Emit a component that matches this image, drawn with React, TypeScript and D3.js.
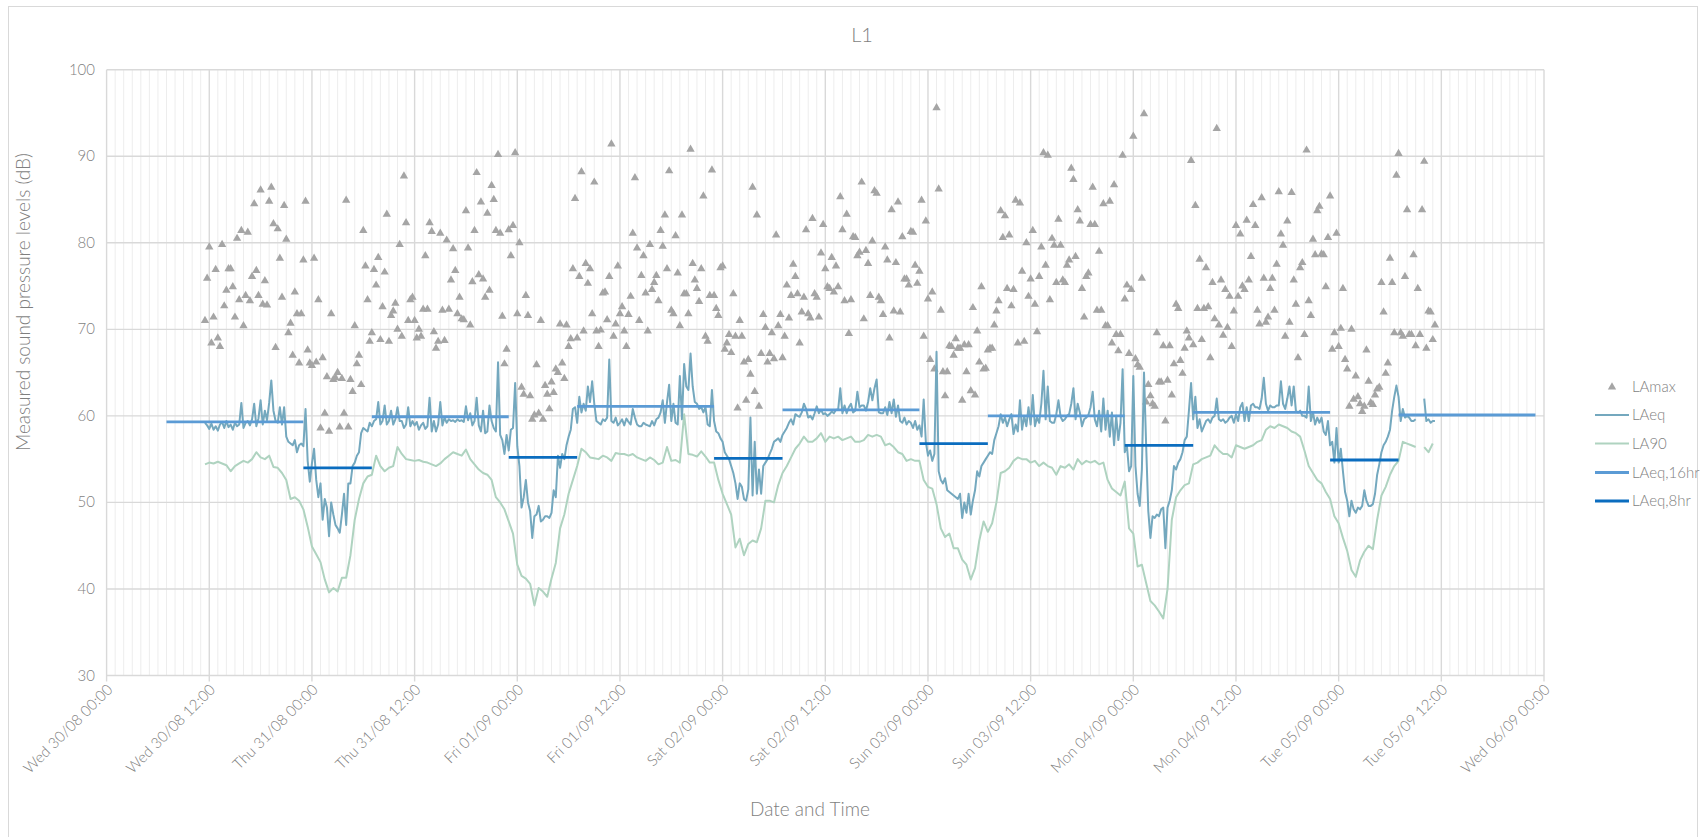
import React from "react";
import * as d3 from "d3";

const W = 1704;
const H = 837;
const plot = { left: 106.6, right: 1544, top: 69.7, bottom: 675.5 };

const chartTitle = "L1";
const yTitle = "Measured sound pressure levels (dB)";
const xTitle = "Date and Time";
const yTicks = [30, 40, 50, 60, 70, 80, 90, 100];
const xDomain = [new Date(2023, 7, 30, 0, 0), new Date(2023, 8, 6, 0, 0)];
const xTickFormat = "%a %d/%m %H:%M";

// first measurement: Wed 30/08 11:30
const seriesStart = new Date(2023, 7, 30, 11, 30);

// LAmax, 15 minute values
const laMax = [
  71.0, 75.9, 79.5, 68.4, 71.4, 76.9, 69.0, 68.0,
  79.8, 72.7, 74.5, 77.0, 77.0, 74.9, 71.4, 80.5,
  73.4, 81.4, 70.4, 73.9, 81.2, 73.3, 76.1, 84.5,
  76.8, 73.9, 86.1, 72.9, 75.6, 72.8, 84.8, 86.4,
  82.2, 67.9, 81.6, 78.2, 73.7, 84.3, 80.4, 69.6,
  70.7, 67.0, 74.3, 71.8, 66.1, 71.8, 78.0, 84.8,
  67.6, 66.1, 65.8, 78.2, 66.2, 73.4, 58.6, 66.7,
  60.3, 64.5, 58.2, 71.8, 64.2, 64.4, 65.0, 58.7,
  64.3, 60.3, 84.9, 58.7, 64.2, 62.8, 70.4, 66.0,
  67.0, 63.6, 81.4, 77.3, 73.4, 68.6, 69.6, 76.9,
  75.1, 78.3, 68.8, 72.6, 76.6, 83.3, 68.6, 71.6,
  72.1, 73.0, 70.0, 79.8, 69.2, 87.7, 82.3, 71.0,
  // Thu 31/08 11:30
  73.4, 73.7, 71.0, 69.0, 70.0, 69.2, 72.3, 78.5,
  72.3, 82.3, 81.3, 69.7, 67.8, 68.6, 81.1, 72.2,
  68.7, 80.3, 72.3, 75.7, 79.3, 76.8, 71.8, 73.7,
  71.2, 71.1, 83.7, 79.4, 70.5, 75.5, 81.4, 88.1,
  76.3, 84.7, 75.8, 73.7, 83.4, 74.5, 86.6, 85.0,
  81.4, 90.2, 81.1, 71.5, 66.0, 67.7, 81.5, 78.5,
  82.0, 90.4, 71.8, 80.0, 63.3, 62.5, 73.9, 71.6,
  62.3, 59.6, 60.1, 65.9, 60.3, 71.0, 59.6, 63.5,
  62.5, 60.8, 63.9, 62.7, 65.4, 65.0, 70.6, 66.1,
  64.3, 70.5, 68.0, 68.9, 77.0, 85.1, 69.0, 76.1,
  88.2, 69.8, 77.6, 75.3, 77.0, 71.8, 87.0, 69.8,
  68.0, 69.9, 74.2, 74.3, 71.1, 76.1, 91.4, 69.2,
  // Fri 01/09 11:30
  70.6, 77.3, 71.8, 72.6, 69.8, 68.0, 71.7, 73.8,
  81.1, 87.5, 79.4, 71.0, 76.2, 78.5, 74.2, 69.8,
  79.8, 74.6, 75.4, 76.2, 73.3, 81.4, 79.6, 83.2,
  77.0, 88.3, 72.2, 71.8, 80.8, 76.5, 70.4, 83.2,
  74.1, 74.1, 71.8, 90.8, 77.6, 75.7, 74.7, 73.2,
  77.0, 85.4, 69.2, 68.6, 73.9, 88.4, 73.9, 72.4,
  71.6, 77.1, 77.3, 67.7, 68.4, 69.4, 67.3, 74.1,
  69.2, 60.9, 71.0, 69.2, 66.2, 61.8, 66.5, 64.8,
  86.4, 62.8, 83.2, 61.1, 67.2, 71.7, 70.2, 66.2,
  67.2, 69.6, 66.6, 80.9, 70.4, 71.7, 66.7, 69.2,
  75.1, 71.3, 73.9, 77.5, 76.1, 74.1, 68.4, 72.0,
  73.7, 81.5, 71.8, 71.3, 82.8, 74.1, 73.7, 71.4,
  // Sat 02/09 11:30
  78.8, 82.1, 77.0, 74.9, 74.7, 78.3, 74.3, 77.3,
  74.9, 85.3, 81.5, 73.3, 83.3, 69.5, 73.4, 80.7,
  80.6, 78.5, 78.9, 87.0, 71.2, 79.1, 77.6, 73.9,
  80.2, 86.0, 85.7, 73.7, 73.3, 71.7, 79.5, 78.0,
  69.0, 83.8, 72.1, 77.7, 84.7, 72.0, 80.7, 75.8,
  75.8, 75.1, 81.3, 81.2, 77.4, 75.3, 76.7, 84.9,
  69.2, 82.5, 73.5, 66.5, 74.3, 65.4, 95.6, 86.2,
  72.2, 65.1, 62.3, 65.1, 68.1, 68.0, 67.0, 68.9,
  67.8, 67.8, 61.8, 68.2, 65.1, 68.2, 62.9, 72.5,
  62.4, 69.8, 66.2, 74.9, 65.4, 65.5, 67.6, 67.8,
  67.8, 70.5, 72.1, 73.3, 83.7, 80.6, 83.1, 74.7,
  80.9, 72.7, 74.6, 84.9, 68.4, 84.6, 76.7, 68.6,
  // Sun 03/09 11:30
  80.0, 73.8, 75.8, 81.4, 72.9, 69.7, 76.1, 79.5,
  90.4, 77.4, 90.1, 73.4, 80.5, 79.7, 75.4, 82.7,
  79.7, 75.7, 75.4, 77.4, 78.0, 88.6, 87.3, 78.4,
  83.8, 82.5, 74.7, 71.4, 76.1, 76.5, 82.1, 86.4,
  82.1, 72.2, 79.0, 72.2, 84.5, 70.4, 70.4, 84.8,
  68.4, 86.7, 69.4, 67.5, 69.4, 90.1, 73.5, 75.1,
  67.2, 74.6, 92.3, 66.6, 65.9, 65.6, 75.9, 94.9,
  61.6, 63.6, 62.3, 61.4, 61.1, 69.6, 63.9, 63.9,
  68.1, 59.4, 64.1, 68.1, 62.4, 66.0, 72.9, 72.4,
  66.4, 64.9, 67.8, 69.8, 69.0, 89.5, 68.2, 84.3,
  72.4, 78.1, 68.8, 72.4, 77.1, 72.6, 66.7, 75.4,
  71.2, 93.2, 70.5, 75.7, 69.3, 74.6, 70.2, 73.8,
  // Mon 04/09 11:30
  68.0, 72.1, 82.0, 73.8, 81.0, 75.0, 74.6, 82.6,
  75.7, 78.4, 84.4, 82.0, 72.2, 70.6, 85.2, 75.9,
  70.8, 71.4, 74.7, 75.9, 72.2, 77.5, 85.9, 81.0,
  79.7, 69.2, 82.5, 70.8, 85.8, 75.7, 72.9, 66.7,
  77.1, 77.7, 69.4, 90.7, 73.3, 71.6, 80.4, 78.6,
  83.7, 84.2, 78.7, 78.6, 74.9, 80.6, 85.4, 67.7,
  69.6, 81.1, 68.0, 70.1, 74.7, 66.5, 65.4, 61.1,
  70.0, 61.9, 64.6, 62.2, 61.4, 60.5, 61.1, 67.6,
  64.0, 61.5, 61.3, 62.4, 63.1, 63.3, 75.4, 72.0,
  64.9, 66.1, 78.2, 75.4, 69.6, 87.8, 90.3, 69.6,
  69.2, 76.1, 83.8, 69.4, 69.4, 78.6, 68.1, 74.7,
  69.4, 83.8, 89.4, 67.8, 72.1, 72.0, 68.8, 70.5,
];

// LAeq, 15 minute values
const laEq = [
  59.2, 58.9, 58.5, 59.1, 58.4, 58.8, 58.3, 59.0,
  59.3, 58.6, 59.4, 58.7, 59.0, 58.4, 59.2, 58.8,
  59.0, 61.5, 58.6, 59.2, 59.4, 58.9, 59.6, 61.4,
  58.8, 59.7, 61.8, 59.0, 60.6, 59.5, 61.5, 64.1,
  60.6, 59.4, 59.2, 61.0, 59.0, 61.0, 57.6, 57.0,
  56.8, 56.6, 57.2, 55.8, 56.6, 56.8, 56.5, 60.8,
  54.8, 52.4, 54.5, 56.2, 52.6, 50.6, 52.2, 48.0,
  50.4, 49.4, 46.1, 50.0, 48.6, 47.4, 47.0, 46.5,
  48.6, 51.0, 47.4, 52.2, 52.2, 54.2, 54.6, 55.4,
  55.8, 58.0, 58.6, 58.4, 58.2, 59.2, 58.8, 59.4,
  59.6, 61.6, 59.0, 59.4, 61.2, 59.0, 59.4, 60.6,
  59.0, 59.6, 61.0, 59.4, 59.4, 58.6, 59.0, 61.0,
  // Thu 31/08 11:30
  58.8, 59.4, 58.9, 59.3, 58.4, 58.9, 59.2, 58.5,
  58.8, 62.1, 58.2, 59.4, 58.2, 59.0, 61.6, 58.9,
  59.8, 59.2, 59.6, 59.4, 59.5, 59.3, 59.6, 59.4,
  59.5, 59.3, 61.1, 59.5, 60.3, 58.9, 59.4, 62.1,
  58.9, 58.2, 60.6, 58.0, 58.2, 61.2, 59.4, 58.6,
  58.2, 66.2, 57.8, 57.2, 55.6, 57.8, 56.0, 58.4,
  58.6, 63.8, 56.5, 54.2, 49.4, 50.6, 52.6, 50.0,
  49.0, 45.9, 48.4, 48.6, 49.6, 47.8, 48.0, 48.4,
  48.4, 48.2, 48.8, 51.4, 50.6, 55.4, 54.0, 55.6,
  55.0, 56.6, 57.6, 58.4, 60.8, 61.0, 59.2, 62.2,
  60.4, 61.4, 60.6, 63.4, 61.6, 64.0, 61.4, 59.4,
  59.2, 59.0, 59.6, 59.4, 59.8, 66.5, 59.4, 59.2,
  // Fri 01/09 11:30
  59.8, 58.9, 59.2, 59.6, 58.9, 59.7, 59.3, 59.0,
  60.8, 59.8, 59.0, 58.8, 58.8, 59.2, 59.0, 58.9,
  58.8, 59.4, 58.9, 59.6, 59.8, 60.4, 61.8, 59.2,
  61.6, 63.6, 59.4, 61.4, 59.2, 59.0, 64.6, 59.6,
  66.0, 63.4, 63.0, 67.2, 63.4, 61.6, 61.4, 60.8,
  61.0, 60.4, 61.0, 59.0, 58.8, 63.0, 59.4, 58.2,
  58.0, 57.4, 57.0, 55.8, 55.4, 55.0, 54.2, 53.4,
  52.2, 50.4, 52.2, 51.8, 50.4, 50.2, 51.5, 59.8,
  50.8, 57.0, 51.0, 53.8, 51.0, 54.2, 54.6, 55.0,
  55.6, 56.2, 57.0, 57.2, 57.4, 57.0, 57.8, 58.2,
  58.6, 59.2, 59.6, 59.0, 60.2, 60.0, 59.9, 60.4,
  61.4, 60.8, 59.8, 60.0, 59.6, 60.3, 61.1, 60.3,
  // Sat 02/09 11:30
  60.7, 60.2, 60.3, 60.0, 60.2, 60.5, 60.3, 60.7,
  60.7, 63.2, 60.3, 61.2, 60.3, 61.0, 61.4, 60.4,
  60.6, 62.8, 61.0, 61.2, 61.2, 60.6, 61.6, 63.2,
  61.8, 63.2, 64.2, 60.4, 60.3, 60.3, 61.0, 60.1,
  61.6, 60.3, 61.9, 59.9, 61.2, 59.4, 59.2, 59.8,
  59.0, 59.4, 59.2, 58.6, 59.4, 58.4, 58.9, 57.6,
  61.9, 57.0, 55.4, 56.0, 54.8, 55.6, 67.4, 53.6,
  52.6, 52.2, 52.8, 51.4, 51.2, 51.0, 50.8, 50.6,
  50.4, 51.0, 48.2, 50.0, 48.8, 51.0, 48.6, 50.2,
  51.4, 53.6, 53.0, 54.2, 54.6, 55.0, 55.4, 55.8,
  55.6, 57.2, 58.0, 58.8, 60.2, 59.2, 59.8, 58.8,
  59.6, 60.2, 57.9, 59.0, 58.2, 61.8, 58.4, 60.0,
  // Sun 03/09 11:30
  58.8, 61.0, 59.0, 62.4, 58.8, 59.8, 59.2, 61.4,
  65.2, 59.6, 63.4, 59.4, 59.2, 59.2, 60.2, 61.8,
  59.9, 59.4, 59.6, 60.0, 60.2, 61.4, 63.2, 59.6,
  61.4, 60.4, 58.8, 59.6, 59.8, 60.1, 61.0, 62.8,
  59.6, 58.8, 60.6, 58.2, 62.0, 58.4, 60.6, 57.6,
  60.4, 56.6, 60.0, 57.2, 59.2, 65.4, 55.8, 56.6,
  53.6, 54.2, 64.6, 54.2, 51.0, 49.6, 53.8, 65.0,
  56.6, 49.0, 45.9, 48.4, 48.2, 48.6, 48.4, 49.2,
  49.4, 44.7, 49.4, 50.2, 51.4, 54.2, 53.8, 54.6,
  55.0, 55.8, 57.2, 57.6, 60.6, 63.8, 59.6, 62.2,
  58.6, 59.6, 58.2, 58.8, 59.4, 59.6, 59.2, 59.8,
  60.0, 62.0, 59.6, 59.4, 59.6, 59.2, 59.4, 59.8,
  // Mon 04/09 11:30
  60.0, 59.2, 60.2, 59.4, 61.0, 61.5, 59.4, 61.0,
  59.4, 61.2, 61.4, 61.0, 61.0, 60.8, 62.0, 64.4,
  61.4, 60.6, 61.2, 61.0, 61.0, 61.2, 61.2, 64.0,
  61.4, 60.8, 62.0, 63.4, 61.2, 63.4, 60.6, 60.4,
  60.6, 60.0, 60.0, 59.8, 63.4, 59.4, 60.4, 59.0,
  59.8, 59.2, 59.8, 58.2, 57.8, 59.4, 56.6, 57.0,
  54.6, 58.6, 54.6, 56.2, 53.6, 51.2, 50.2, 48.4,
  50.2, 49.2, 48.8, 49.4, 49.2, 49.6, 51.4, 50.2,
  49.6, 49.6, 49.8, 51.0, 53.2, 54.4, 55.8, 56.6,
  57.0, 57.6, 58.4, 60.6, 62.2, 63.5, 62.2, 59.4,
  60.8, 59.8, 60.0, 59.8, 59.4, 59.4, 59.6, null,
  null, null, 62.0, 59.4, 59.6, 59.2, 59.4, 59.4,
];

// LA90, 30 minute values
const la90 = [
  54.4, 54.6, 54.5, 54.7, 54.5, 54.3, 53.6, 54.2,
  54.5, 54.8, 54.6, 55.0, 55.8, 55.2, 55.0, 55.4,
  54.1, 54.0, 53.4, 52.6, 50.4, 50.6, 50.2, 49.2,
  47.2, 44.9, 44.0, 43.1, 41.1, 39.6, 40.1, 39.7,
  41.3, 41.3, 43.9, 48.0, 50.4, 52.2, 53.0, 53.2,
  55.4, 54.2, 53.6, 54.0, 54.2, 56.4, 55.6, 55.0,
  54.9, 54.8, 54.9, 54.7, 54.6, 54.4, 54.2, 54.5,
  55.0, 55.4, 55.8, 55.6, 55.4, 56.1, 55.0, 54.4,
  53.8, 53.4, 53.2, 52.6, 50.6, 50.0, 49.2, 47.8,
  46.4, 42.8, 41.5, 41.2, 40.6, 38.1, 40.1, 39.7,
  39.1, 41.2, 43.0, 47.0, 48.6, 51.0, 52.6, 54.2,
  56.2, 55.8, 55.2, 55.1, 55.0, 55.4, 55.2, 54.8,
  55.7, 55.6, 55.6, 55.4, 55.6, 55.2, 55.0, 54.8,
  55.2, 54.9, 54.4, 54.6, 56.4, 54.8, 54.9, 54.6,
  60.2, 55.6, 55.5, 55.3, 55.9, 55.3, 54.6, 54.6,
  52.6, 51.0, 49.8, 48.6, 44.8, 45.8, 43.9, 45.2,
  45.6, 45.4, 47.0, 50.2, 50.2, 50.0, 52.0, 53.4,
  54.2, 55.2, 56.2, 56.8, 57.6, 57.0, 57.0, 57.4,
  58.0, 57.0, 57.6, 57.4, 57.6, 57.2, 57.4, 57.6,
  57.0, 57.0, 57.2, 57.8, 57.6, 57.8, 57.6, 56.6,
  56.8, 56.4, 55.8, 55.6, 54.8, 55.0, 54.8, 54.8,
  52.6, 51.8, 51.6, 49.8, 47.0, 46.0, 46.4, 44.7,
  44.7, 43.4, 42.8, 41.1, 42.4, 45.6, 47.8, 46.6,
  47.6, 50.0, 53.4, 53.6, 54.0, 54.8, 55.2, 55.0,
  55.0, 54.6, 54.8, 54.2, 54.6, 54.2, 54.0, 53.2,
  54.2, 54.0, 54.4, 53.8, 55.0, 54.4, 54.8, 54.6,
  54.8, 54.4, 54.6, 52.6, 51.6, 51.2, 50.8, 52.4,
  47.0, 46.4, 42.6, 42.8, 40.7, 38.6, 38.1, 37.4,
  36.6, 40.0, 48.0, 50.6, 51.4, 52.0, 52.2, 54.4,
  54.6, 55.0, 55.2, 55.4, 56.6, 56.0, 55.6, 55.6,
  55.2, 56.6, 56.4, 56.2, 56.4, 56.6, 57.0, 57.2,
  58.4, 58.8, 58.6, 59.0, 58.8, 58.6, 58.2, 58.0,
  57.6, 56.0, 54.2, 53.4, 52.6, 52.2, 51.2, 50.4,
  48.4, 47.6, 45.9, 44.4, 42.2, 41.4, 43.3, 44.3,
  45.0, 44.6, 48.0, 50.8, 51.8, 53.2, 54.2, 54.8,
  57.0, 56.8, 56.6, 56.4, null, 56.4, 55.8, 56.8,
];

// LAeq,16hr (07:00-23:00) and LAeq,8hr (23:00-07:00)
const dayDates = [
  new Date(2023, 7, 30), new Date(2023, 7, 31), new Date(2023, 8, 1), new Date(2023, 8, 2),
  new Date(2023, 8, 3), new Date(2023, 8, 4), new Date(2023, 8, 5),
];
const laEq16 = [59.3, 59.9, 61.1, 60.7, 60.0, 60.4, 60.1];
const laEq8 = [54.0, 55.2, 55.1, 56.8, 56.6, 54.9];

const colors = {
  lamax: "#a5a5a5",
  laeq: "#74a8be",
  la90: "#afd3c0",
  laeq16: "#5b9bd5",
  laeq8: "#0b6dbf",
  grid: "#d9d9d9",
  minor: "#ededed",
  text: "#7f7f7f",
};

const legendItems = [
  { name: "LAmax", key: "lamax", kind: "marker" },
  { name: "LAeq", key: "laeq", kind: "line" },
  { name: "LA90", key: "la90", kind: "line" },
  { name: "LAeq,16hr", key: "laeq16", kind: "thick" },
  { name: "LAeq,8hr", key: "laeq8", kind: "thick" },
];

const font = "Lato, 'Open Sans', sans-serif";

export default function App() {
  const x = d3.scaleTime().domain(xDomain).range([plot.left, plot.right]);
  const y = d3.scaleLinear().domain([30, 100]).range([plot.bottom, plot.top]);
  const fmt = d3.timeFormat(xTickFormat);

  const at = (i: number, step: number) => d3.timeMinute.offset(seriesStart, i * step);
  const maxPts = laMax.map((v, i) => ({ t: at(i, 15), v }));
  const eqPts = laEq.map((v, i) => ({ t: at(i, 15), v }));
  const l90Pts = la90.map((v, i) => ({ t: at(i, 30), v }));

  const line = d3
    .line<any>()
    .defined((d) => d.v != null)
    .x((d) => x(d.t))
    .y((d) => y(d.v));

  const hours = d3.timeHour.range(xDomain[0], d3.timeHour.offset(xDomain[1], 1));
  const major = hours.filter((t) => t.getHours() % 12 === 0);
  const minor = hours.filter((t) => t.getHours() % 12 !== 0);

  const tri = d3.symbol().type(d3.symbolTriangle).size(30)() as string;

  const legendY = [387, 415, 443.5, 472.5, 501];

  return (
    <svg width={W} height={H} style={{ position: "absolute", left: 0, top: 0, background: "#fff" }}>
      <rect x={8.5} y={6.5} width={1689} height={845} fill="#fff" stroke={colors.grid} strokeWidth={1} />

      <text x={862} y={42} textAnchor="middle" fontFamily={font} fontWeight={300} fontSize={20} fill={colors.text}>
        {chartTitle}
      </text>

      {/* gridlines */}
      {minor.map((t, i) => (
        <line key={"mn" + i} x1={x(t)} x2={x(t)} y1={plot.top} y2={plot.bottom} stroke={colors.minor} strokeWidth={1} />
      ))}
      {yTicks.map((v) => (
        <line key={"gy" + v} x1={plot.left} x2={plot.right} y1={y(v)} y2={y(v)} stroke={colors.grid} strokeWidth={1.4} />
      ))}
      {major.map((t, i) => (
        <line key={"mj" + i} x1={x(t)} x2={x(t)} y1={plot.top} y2={plot.bottom + 6} stroke={colors.grid} strokeWidth={1.4} />
      ))}

      {/* y tick labels */}
      {yTicks.map((v) => (
        <text key={"yl" + v} x={95} y={y(v) + 5} textAnchor="end" fontFamily={font} fontWeight={300} fontSize={15} fill={colors.text}>
          {v}
        </text>
      ))}

      {/* x tick labels */}
      {major.map((t, i) => (
        <text
          key={"xl" + i}
          transform={`translate(${x(t) + 7},${plot.bottom + 15}) rotate(-45)`}
          textAnchor="end"
          fontFamily={font}
          fontWeight={300}
          fontSize={15}
          fill={colors.text}
        >
          {fmt(t)}
        </text>
      ))}

      {/* series */}
      {maxPts.map((d, i) => (
        <path key={"mx" + i} d={tri} transform={`translate(${x(d.t)},${y(d.v)})`} fill={colors.lamax} />
      ))}
      <path d={line(eqPts) || ""} fill="none" stroke={colors.laeq} strokeWidth={2} strokeLinejoin="round" />
      <path d={line(l90Pts) || ""} fill="none" stroke={colors.la90} strokeWidth={2} strokeLinejoin="round" />
      {laEq16.map((v, i) => (
        <line
          key={"d16" + i}
          x1={x(d3.timeHour.offset(dayDates[i], 7))}
          x2={x(d3.timeHour.offset(dayDates[i], 23))}
          y1={y(v)}
          y2={y(v)}
          stroke={colors.laeq16}
          strokeWidth={2.8}
        />
      ))}
      {laEq8.map((v, i) => (
        <line
          key={"n8" + i}
          x1={x(d3.timeHour.offset(dayDates[i], 23))}
          x2={x(d3.timeHour.offset(dayDates[i], 31))}
          y1={y(v)}
          y2={y(v)}
          stroke={colors.laeq8}
          strokeWidth={2.8}
        />
      ))}

      {/* axis titles */}
      <text
        transform={`translate(30,302) rotate(-90)`}
        textAnchor="middle"
        fontFamily={font}
        fontWeight={300}
        fontSize={19}
        fill={colors.text}
      >
        {yTitle}
      </text>
      <text x={810} y={816} textAnchor="middle" fontFamily={font} fontWeight={300} fontSize={19} fill={colors.text}>
        {xTitle}
      </text>

      {/* legend */}
      {legendItems.map((it, i) => (
        <g key={it.name} transform={`translate(1612,${legendY[i]})`}>
          {it.kind === "marker" ? (
            <path d={tri} fill={(colors as any)[it.key]} />
          ) : (
            <line x1={-17} x2={17} y1={0} y2={0} stroke={(colors as any)[it.key]} strokeWidth={it.kind === "thick" ? 2.8 : 2} />
          )}
          <text x={20} y={5} fontFamily={font} fontWeight={300} fontSize={15} fill={colors.text}>
            {it.name}
          </text>
        </g>
      ))}
    </svg>
  );
}
